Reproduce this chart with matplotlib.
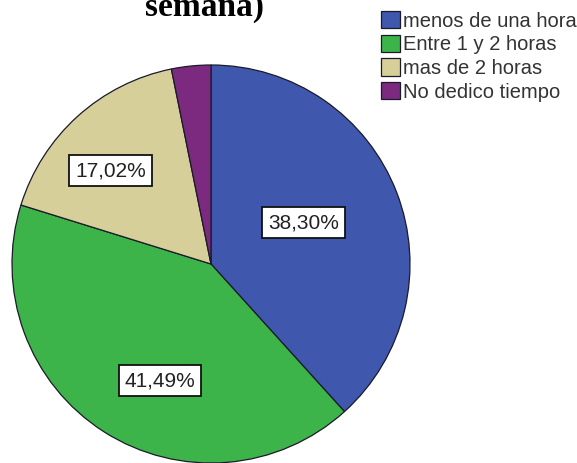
import matplotlib
matplotlib.use("Agg")
import matplotlib.pyplot as plt
import numpy as np

categories = ["menos de una hora", "Entre 1 y 2 horas", "mas de 2 horas", "No dedico tiempo"]
values = [38.30, 41.49, 17.02, 3.19]
labels = ["38,30%", "41,49%", "17,02%", None]
colors = ["#3F57AD", "#3DB449", "#D6CF99", "#7C2A80"]
title_text = "semana)"

# label placement: fraction of radius, angular shift (deg) relative to wedge middle
label_frac = [0.51, 0.64, 0.69, 0.0]
label_shift = [3.0, 9.0, 5.0, 0.0]

W, H = 577, 463
fig = plt.figure(figsize=(W / 100, H / 100), dpi=100)
fig.patch.set_facecolor("white")

cx, cy, r = 211, 264, 199
ax = fig.add_axes([(cx - r) / W, (H - cy - r) / H, 2 * r / W, 2 * r / H])
wedges, _ = ax.pie(values, colors=colors, startangle=90, counterclock=False,
                   radius=1.0, wedgeprops=dict(edgecolor="#1a1a2a", linewidth=0.9))
ax.set_xlim(-1, 1)
ax.set_ylim(-1, 1)
ax.set_aspect("equal")
ax.axis("off")

for w, lab, fr, sh in zip(wedges, labels, label_frac, label_shift):
    if lab is None:
        continue
    mid = np.deg2rad((w.theta1 + w.theta2) / 2 + sh)
    ax.text(fr * np.cos(mid), fr * np.sin(mid), lab, ha="center", va="center",
            fontsize=15, family="Liberation Sans", color="#222222",
            bbox=dict(boxstyle="square,pad=0.28", facecolor="white",
                      edgecolor="#111111", linewidth=1.3))

fig.text(204 / W, (H - 16) / H, title_text, ha="center", va="baseline",
         fontsize=24, fontweight="bold", family="Liberation Serif", color="black")

leg = fig.legend(wedges, categories, loc="upper left",
                 bbox_to_anchor=(381 / W, (H - 11) / H), frameon=False,
                 prop=dict(family="Liberation Sans", size=14.5),
                 handlelength=0.95, handleheight=0.95, handletextpad=0.15,
                 labelspacing=0.2, borderpad=0, borderaxespad=0)
for t in leg.get_texts():
    t.set_color("#333333")

fig.savefig("out.png", dpi=100)
